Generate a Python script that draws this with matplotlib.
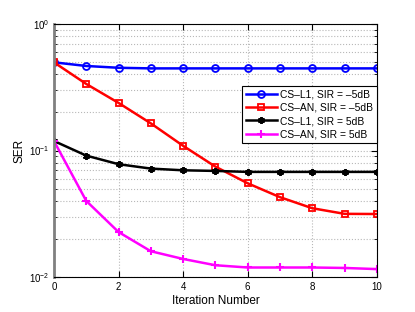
import numpy as np
import matplotlib
matplotlib.use("Agg")
import matplotlib.pyplot as plt

plt.rcParams['font.family'] = ['Liberation Sans', 'DejaVu Sans']
plt.rcParams['mathtext.fontset'] = 'custom'
plt.rcParams['mathtext.rm'] = 'Liberation Sans'

iterations = np.arange(0, 11)
cs_l1_m5 = [0.498, 0.466, 0.451, 0.446, 0.446, 0.446, 0.446, 0.446, 0.446, 0.446, 0.446]
cs_an_m5 = [0.498, 0.336, 0.238, 0.164, 0.109, 0.0746, 0.0551, 0.0428, 0.035, 0.0316, 0.0315]
cs_l1_p5 = [0.119, 0.0912, 0.078, 0.072, 0.0698, 0.069, 0.0678, 0.0678, 0.0678, 0.0678, 0.0678]
cs_an_p5 = [0.119, 0.040, 0.0227, 0.016, 0.0139, 0.0124, 0.0119, 0.0119, 0.0119, 0.0118, 0.01156]

fig = plt.figure(figsize=(4.15, 3.12), dpi=100)
ax = fig.add_axes([0.130, 0.112, 0.778, 0.811])

ax.semilogy(iterations, cs_l1_m5, color="blue", marker="o", mfc="none", ms=5, mew=1.3, lw=1.8,
            label="CS\u2013L1, SIR = \u20135dB")
ax.semilogy(iterations, cs_an_m5, color="red", marker="s", mfc="none", ms=5, mew=1.3, lw=1.8,
            label="CS\u2013AN, SIR = \u20135dB")
ax.semilogy(iterations, cs_l1_p5, color="black", marker=(6, 2, 0), ms=5, mew=1.4, lw=1.8,
            label="CS\u2013L1, SIR = 5dB")
ax.semilogy(iterations, cs_an_p5, color="magenta", marker="+", ms=6, mew=1.5, lw=1.8,
            label="CS\u2013AN, SIR = 5dB")

ax.set_xlim(0, 10)
ax.set_ylim(1e-2, 1e0)
ax.set_xticks([0, 2, 4, 6, 8, 10])
ax.grid(True, which="major", linestyle=":", color="#b8b8b8", lw=0.8)
ax.grid(True, which="minor", axis="y", linestyle=":", color="#b8b8b8", lw=0.8)
ax.tick_params(which="both", direction="in", top=True, right=True, labelsize=7)
ax.tick_params(which="major", length=4)
ax.tick_params(which="minor", length=2)
ax.spines["left"].set_color("gray")
ax.spines["left"].set_linewidth(2)

ax.set_xlabel("Iteration Number", fontsize=8.5, labelpad=2)
ax.set_ylabel("SER", fontsize=8.5, labelpad=2)

leg = ax.legend(loc="upper right", bbox_to_anchor=(1.0, 0.756), fontsize=7.4, fancybox=False,
                edgecolor="black", framealpha=1, borderpad=0.4, labelspacing=0.3,
                handlelength=3.0, handletextpad=0.3, borderaxespad=0)
leg.get_frame().set_linewidth(0.8)

fig.savefig("out.png", dpi=100)
plt.close(fig)
